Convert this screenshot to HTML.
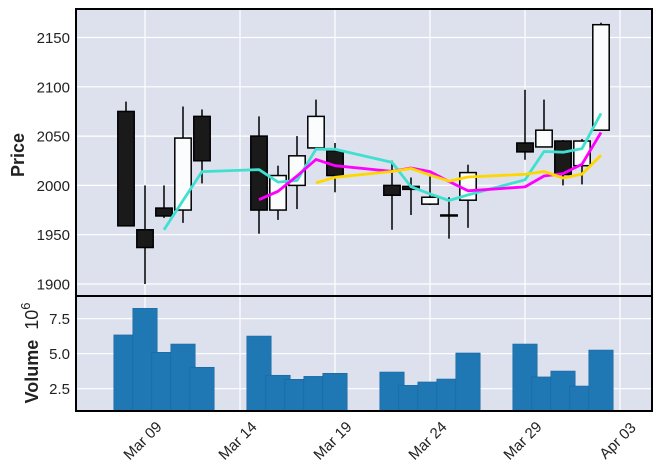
<!DOCTYPE html>
<html><head><meta charset="utf-8"><style>
html,body{margin:0;padding:0;background:#fff;}
svg{display:block;font-family:"Liberation Sans","DejaVu Sans",sans-serif;}
</style></head><body>
<svg id="chart" width="662" height="474" viewBox="0 0 662 474" xmlns="http://www.w3.org/2000/svg">
<rect x="76" y="9" width="576" height="287" fill="#dce1ed"/>
<rect x="76" y="296" width="576" height="115" fill="#dce1ed"/>
<g id="grid"></g>
<g id="volume"></g>
<g id="candles"></g>
<g id="mavs"></g>
<g id="axes"></g>
<rect x="76" y="9" width="576" height="287" fill="none" stroke="#000" stroke-width="2"/>
<rect x="76" y="296" width="576" height="115" fill="none" stroke="#000" stroke-width="2"/>
<text transform="translate(24,155) rotate(-90)" text-anchor="middle" font-size="18" font-weight="bold" fill="#222">Price</text>
<text transform="translate(38,353) rotate(-90)" text-anchor="middle" font-size="18" fill="#222"><tspan font-weight="bold">Volume</tspan><tspan dx="10">10</tspan><tspan dy="-8" font-size="13">6</tspan></text>
</svg>
<script>
const dates = ["Mar 08","Mar 09","Mar 10","Mar 11","Mar 12","Mar 15","Mar 16","Mar 17","Mar 18","Mar 19","Mar 22","Mar 23","Mar 24","Mar 25","Mar 26","Mar 29","Mar 30","Mar 31","Apr 01","Apr 02"];
const dayOffsets = [-1,0,1,2,3,6,7,8,9,10,13,14,15,16,17,20,21,22,23,24];
const opens  = [2075,1955,1977,1975,2070,2050,1975,2000,2038,2035,2000,1999,1981,1970,1985,2043,2039,2045,2020,2056];
const highs  = [2085,2000,2000,2080,2077,2070,2020,2050,2087,2043,2025,2008,2009,1988,2021,2097,2087,2046,2047,2165];
const lows   = [1959,1900,1967,1962,2002,1951,1965,1976,2037,1993,1955,1970,1980,1946,1957,2026,2039,2000,2001,2056];
const closes = [1959,1937,1969,2048,2025,1975,2010,2030,2070,2010,1990,1996,1988,1970,2013,2034,2056,2011,2045,2163];
const volumes = [6.34,8.24,5.10,5.69,4.03,6.26,3.46,3.17,3.38,3.60,3.69,2.74,2.98,3.19,5.05,5.69,3.34,3.76,2.69,5.26];
const mavPeriods = [3,6,9];
const priceTicks = [1900,1950,2000,2050,2100,2150];
const volTicks = [2.5,5.0,7.5];
const xTickLabels = ["Mar 09","Mar 14","Mar 19","Mar 24","Mar 29","Apr 03"];
const xTickOffsets = [0,5,10,15,20,25];

const NS="http://www.w3.org/2000/svg";
const X = d => 145 + d*19;
const Y = p => 284 - (p-1900)*0.986;
const YV = v => 388.7 - (v-2.5)*14;
function mk(tag, attrs, parent){const e=document.createElementNS(NS,tag);for(const k in attrs)e.setAttribute(k,attrs[k]);parent.appendChild(e);return e;}
const grid=document.getElementById('grid'), axes=document.getElementById('axes');
priceTicks.forEach(p=>{
  const l=mk('line',{x1:76,x2:652,y1:Y(p),y2:Y(p),stroke:'#fff','stroke-width':1.2},grid);
  
  
  const t=mk('text',{x:70,y:Y(p)+5.5,'text-anchor':'end','font-size':15,fill:'#222'},axes);
  t.textContent=p;
  
  
});
volTicks.forEach(v=>{
  const l=mk('line',{x1:76,x2:652,y1:YV(v),y2:YV(v),stroke:'#fff','stroke-width':1.2},grid);
  
  
  const t=mk('text',{x:70,y:YV(v)+5.5,'text-anchor':'end','font-size':15,fill:'#222'},axes);
  t.textContent=v.toFixed(1);
  
  
});
xTickOffsets.forEach((d,i)=>{
  const x=X(d);
  const l=mk('line',{x1:x,x2:x,y1:9,y2:411,stroke:'#fff','stroke-width':1.2},grid);
  
  
  const t=mk('text',{transform:`translate(${x-2},${441}) rotate(-45)`,'text-anchor':'middle','dominant-baseline':'central','font-size':15,fill:'#222'},axes);
  t.textContent=xTickLabels[i];
  
  
});
const vg=document.getElementById('volume');
volumes.forEach((v,i)=>{
  const x=X(dayOffsets[i]);
  const r=mk('rect',{x:x-12.2,y:YV(v),width:24.4,height:411-YV(v),fill:'#1f77b4',stroke:'#1a65a0','stroke-width':0.6},vg);
  
  
});
const cg=document.getElementById('candles');
opens.forEach((o,i)=>{
  const x=X(dayOffsets[i]), c=closes[i];
  const w=mk('line',{x1:x,x2:x,y1:Y(highs[i]),y2:Y(lows[i]),stroke:'#000','stroke-width':1.5},cg);
  
  
  const top=Y(Math.max(o,c)), bot=Y(Math.min(o,c));
  const b=mk('rect',{x:x-8.2,y:top,width:16.4,height:Math.max(bot-top,1),fill:c<o?'#1a1a1a':'#fbfcfe',stroke:'#000','stroke-width':1.5},cg);
  
  
});
const mg=document.getElementById('mavs');
const mcolors=['#40e0d0','#ff00ff','#ffd700'];
mavPeriods.forEach((n,k)=>{
  const pts=[];
  for(let i=n-1;i<closes.length;i++){
    let s=0;for(let j=i-n+1;j<=i;j++)s+=closes[j];
    pts.push(X(dayOffsets[i]).toFixed(1)+','+Y(s/n).toFixed(1));
  }
  const p=mk('polyline',{points:pts.join(' '),fill:'none',stroke:mcolors[k],'stroke-width':2.8,'stroke-linejoin':'round'},mg);
  
  
});
</script>
</body></html>
